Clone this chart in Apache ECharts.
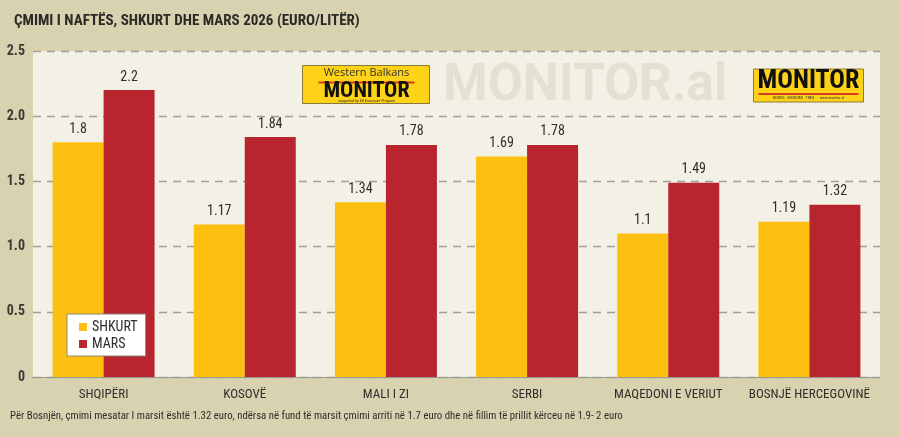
<!DOCTYPE html>
<html>
<head>
<meta charset="utf-8">
<script src="https://cdn.jsdelivr.net/npm/echarts@6/dist/echarts.min.js"></script>
<style>
  html, body { margin: 0; padding: 0; background: #d9d2b0; }
  #chart { width: 900px; height: 437px; }
</style>
</head>
<body>
<div id="chart"></div>
<script>
// çmimi i naftës sipas vendeve
const categories = ['SHQIPËRI', 'KOSOVË', 'MALI I ZI', 'SERBI', 'MAQEDONI E VERIUT', 'BOSNJË HERCEGOVINË']
const seriesNames = ['SHKURT', 'MARS']
const shkurt = [1.8, 1.17, 1.34, 1.69, 1.1, 1.19]
const mars = [2.2, 1.84, 1.78, 1.78, 1.49, 1.32]
const yTicks = [0, 0.5, 1.0, 1.5, 2.0, 2.5]

const FONT = '"Roboto Condensed", "DejaVu Sans Condensed", sans-serif'

const chart = echarts.init(document.getElementById('chart'))

const option = {
  backgroundColor: '#d9d2b0',
  color: ['#fdc010', '#b8252f'],
  animation: false,
  title: {
    text: 'ÇMIMI I NAFTËS, SHKURT DHE MARS 2026 (EURO/LITËR)',
    left: 9,
    top: 9,
    textStyle: {
      fontFamily: FONT,
      fontWeight: 'bold',
      fontSize: 15,
      color: '#2b2a26',
    },
  },
  legend: {
    data: seriesNames,
    orient: 'vertical',
    left: 67,
    top: 314,
    padding: [6, 8, 5, 12],
    itemGap: 3,
    icon: 'rect',
    itemWidth: 8,
    itemHeight: 8,
    backgroundColor: '#ffffff',
    borderColor: '#8a8576',
    borderWidth: 1,
    textStyle: {
      fontFamily: FONT,
      fontSize: 14,
      color: '#2f2e2a',
    },
  },
  grid: {
    left: 33,
    right: 20,
    top: 51,
    bottom: 60,
    show: true,
    backgroundColor: '#f3f0e5',
    borderWidth: 0,
  },
  xAxis: {
    type: 'category',
    data: categories,
    axisTick: { show: false },
    axisLine: { lineStyle: { color: '#9a978c', width: 1 } },
    axisLabel: {
      fontFamily: FONT,
      fontSize: 13,
      color: '#2f2e2a',
      margin: 11,
      interval: 0,
    },
  },
  yAxis: {
    type: 'value',
    min: yTicks[0],
    max: yTicks[yTicks.length - 1],
    interval: 0.5,
    axisLine: { show: false },
    axisTick: { show: false },
    axisLabel: {
      fontFamily: FONT,
      fontWeight: 'bold',
      fontSize: 14,
      color: '#3a3935',
      margin: 8,
      formatter: (v) => (v === 0 ? '0' : v.toFixed(1)),
    },
    splitLine: {
      lineStyle: { color: '#a19e93', type: [8, 6], width: 1.3 },
    },
  },
  graphic: [
    // MONITOR.al watermark
    {
      type: 'text',
      left: 443,
      top: 62,
      z: 1,
      style: {
        text: 'MONITOR.al',
        font: 'bold 51px Roboto, sans-serif',
        fill: '#e4e0d2',
      },
    },
    // Western Balkans MONITOR logo
    {
      type: 'group',
      left: 302,
      top: 65,
      z: 2,
      children: [
        {
          type: 'rect',
          shape: { x: 0, y: 0, width: 127, height: 38 },
          style: { fill: '#fed317', stroke: '#8a7a3a', lineWidth: 1 },
        },
        {
          type: 'text',
          style: {
            text: 'Western Balkans',
            x: 64, y: 2, textAlign: 'center',
            font: '11px "Open Sans", sans-serif', fill: '#333',
          },
        },
        {
          type: 'rect',
          shape: { x: 16, y: 16, width: 96, height: 2 },
          style: { fill: '#d83a1e' },
        },
        {
          type: 'text',
          style: {
            text: 'MONITOR',
            x: 64, y: 15, textAlign: 'center',
            font: 'bold 22px ' + FONT, fill: '#111',
          },
        },
        {
          type: 'text',
          style: {
            text: 'supported by EU Erasmus+ Program',
            x: 64, y: 33, textAlign: 'center',
            font: '4px ' + FONT, fill: '#333',
          },
        },
      ],
    },
    // MONITOR logo right
    {
      type: 'group',
      left: 753,
      top: 68,
      z: 2,
      children: [
        {
          type: 'rect',
          shape: { x: 0, y: 0, width: 110, height: 33 },
          style: { fill: '#fed317', stroke: '#8a7a3a', lineWidth: 1 },
        },
        {
          type: 'text',
          style: {
            text: 'MONITOR',
            x: 55, y: -1, textAlign: 'center',
            font: 'bold 26px ' + FONT, fill: '#111',
          },
        },
        {
          type: 'rect',
          shape: { x: 5, y: 24, width: 100, height: 2 },
          style: { fill: '#d83a1e' },
        },
        {
          type: 'text',
          style: {
            text: 'BIZNES · EKONOMI · TREG      www.monitor.al',
            x: 55, y: 27, textAlign: 'center',
            font: '4px ' + FONT, fill: '#333',
          },
        },
      ],
    },
    // footnote
    {
      type: 'text',
      left: 10,
      top: 411,
      style: {
        text: 'Për Bosnjën, çmimi mesatar I marsit është 1.32 euro, ndërsa në fund të marsit çmimi arriti në 1.7 euro dhe në fillim të prillit kërceu në 1.9- 2 euro',
        font: '10.8px ' + FONT,
        fill: '#2f2e2a',
      },
    },
  ],
  series: [shkurt, mars].map((data, index) => ({
    name: seriesNames[index],
    type: 'bar',
    data,
    barWidth: 51,
    barGap: '0%',
    z: 3,
    label: {
      show: true,
      position: 'top',
      distance: 6,
      fontFamily: FONT,
      fontSize: 14,
      color: '#2f2e2a',
    },
  })),
}

chart.setOption(option)
</script>
</body>
</html>
